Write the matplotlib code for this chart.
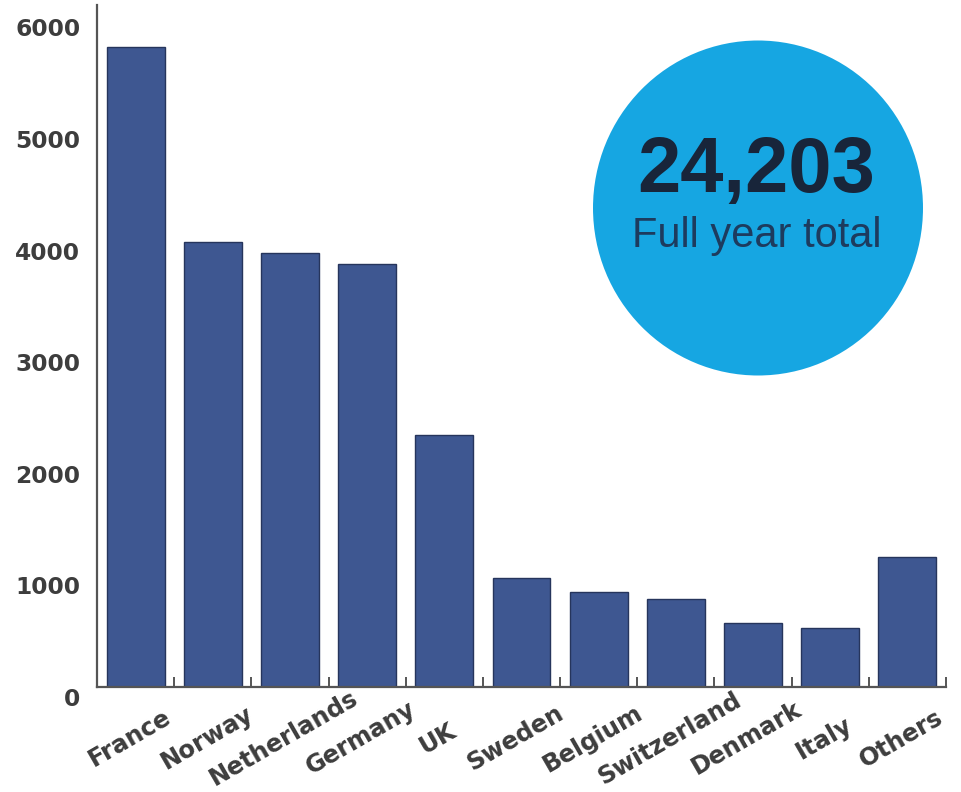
import matplotlib
matplotlib.use("Agg")
import matplotlib.pyplot as plt
import matplotlib.transforms as mtransforms
from matplotlib.patches import Ellipse
import numpy as np

countries = ["France", "Norway", "Netherlands", "Germany", "UK", "Sweden",
             "Belgium", "Switzerland", "Denmark", "Italy", "Others"]
values = [5730, 3990, 3890, 3790, 2260, 980, 850, 790, 575, 530, 1165]
yticks = [0, 1000, 2000, 3000, 4000, 5000, 6000]
total_text = "24,203"
total_label = "Full year total"

W, H = 961, 792
fig = plt.figure(figsize=(W / 100, H / 100), dpi=100)
ax = fig.add_axes([97 / W, 1 - 687 / H, (946 - 97) / W, (687 - 5) / H])

x = np.arange(len(countries))
ax.bar(x, values, width=0.75, color="#3e5791", edgecolor="#26355c", linewidth=1.0, zorder=2)

ax.set_xlim(-0.5, len(countries) - 0.5)
ax.set_ylim(0, 6110)

for s in ["top", "right"]:
    ax.spines[s].set_visible(False)
for s in ["left", "bottom"]:
    ax.spines[s].set_color("#555555")
    ax.spines[s].set_linewidth(1.6)

ax.set_yticks(yticks)
ax.set_yticklabels([str(v) for v in yticks])
ax.tick_params(axis="y", length=0, pad=12, labelsize=16.8, labelcolor="#3d3d3d")
for lab in ax.get_yticklabels():
    lab.set_fontweight("bold")
    lab.set_transform(lab.get_transform() +
                      mtransforms.ScaledTranslation(0, -10 / 100, fig.dpi_scale_trans))

ax.set_xticks(x)
ax.set_xticklabels(countries, rotation=30, ha="center", va="center",
                   rotation_mode="anchor", fontsize=17.5, fontweight="bold", color="#3d3d3d")
ax.tick_params(axis="x", which="major", length=0, pad=37)
for lab in ax.get_xticklabels():
    lab.set_transform(lab.get_transform() +
                      mtransforms.ScaledTranslation(-6 / 100, 0, fig.dpi_scale_trans))
ax.set_xticks(x + 0.5, minor=True)
ax.tick_params(axis="x", which="minor", direction="in", length=7, width=1.4, color="#555555")

circ = Ellipse((758 / W, 1 - 208 / H), 330 / W, 335 / H, transform=fig.transFigure,
               facecolor="#16a6e2", edgecolor="none", zorder=5)
fig.add_artist(circ)
fig.text(756 / W, 1 - 192 / H, total_text, ha="center", va="baseline",
         fontsize=56, fontweight="bold", color="#18253a", family="Liberation Sans", zorder=6)
fig.text(757 / W, 1 - 247 / H, total_label, ha="center", va="baseline",
         fontsize=30, color="#1d3b5e", family="Liberation Sans", zorder=6)

fig.savefig("out.png", dpi=100)
